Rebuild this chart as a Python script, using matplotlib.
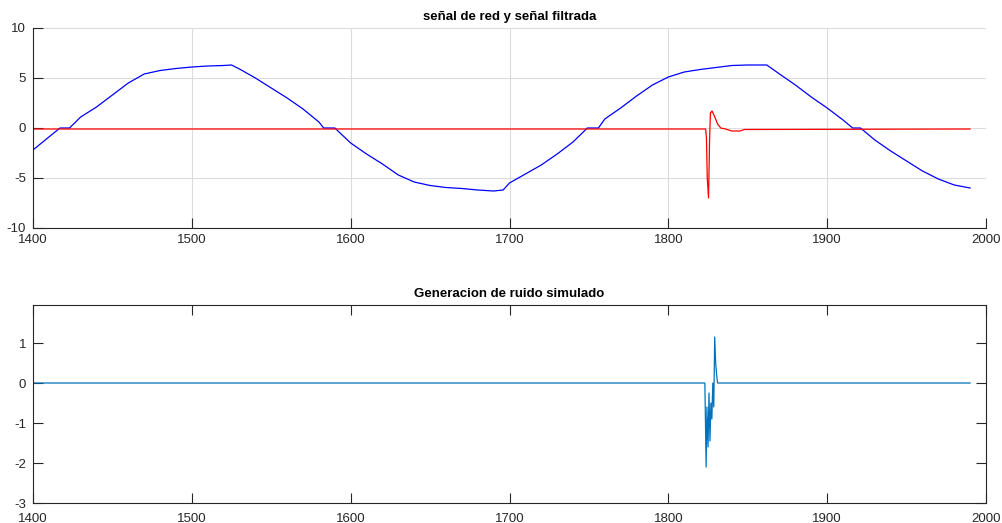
import matplotlib
matplotlib.use("Agg")
import matplotlib.pyplot as plt

plt.rcParams['font.family'] = ['Liberation Sans', 'DejaVu Sans']
plt.rcParams['axes.unicode_minus'] = False

# Top panel: grid signal (blue)
blue_x = [1400, 1410, 1417, 1420, 1423, 1430, 1440, 1450, 1460, 1470, 1480, 1490,
          1500, 1510, 1520, 1525, 1530, 1540, 1550, 1560, 1570, 1580, 1583, 1590,
          1600, 1610, 1620, 1630, 1640, 1650, 1660, 1670, 1680, 1690, 1696, 1700,
          1710, 1720, 1730, 1740, 1749, 1756, 1760, 1770, 1780, 1790, 1800, 1810,
          1820, 1830, 1840, 1850, 1862, 1870, 1880, 1890, 1900, 1910, 1916, 1921,
          1930, 1940, 1950, 1960, 1970, 1980, 1990]
blue_y = [-2.2, -0.9, 0.0, 0.0, 0.0, 1.1, 2.1, 3.3, 4.5, 5.4, 5.75, 5.95,
          6.1, 6.2, 6.25, 6.3, 5.9, 5.0, 4.0, 3.0, 1.9, 0.6, 0.0, 0.0,
          -1.5, -2.6, -3.6, -4.7, -5.4, -5.75, -5.95, -6.05, -6.2, -6.3, -6.2, -5.5,
          -4.6, -3.7, -2.6, -1.4, 0.0, 0.0, 0.9, 2.0, 3.2, 4.3, 5.1, 5.6,
          5.85, 6.05, 6.25, 6.3, 6.3, 5.4, 4.3, 3.1, 2.0, 0.8, 0.0, 0.0,
          -1.2, -2.3, -3.3, -4.3, -5.1, -5.7, -6.0]

# Top panel: filtered signal (red)
red_x = [1400, 1823.5, 1824, 1824.5, 1825.3, 1826, 1826.5, 1827.5, 1829, 1831,
         1833, 1836, 1840, 1845, 1848, 1990]
red_y = [-0.1, -0.1, -1.0, -5.0, -7.0, -1.0, 1.5, 1.7, 1.2, 0.4,
         0.0, -0.1, -0.3, -0.3, -0.15, -0.1]

# Bottom panel: simulated noise
noise_x = [1400, 1823, 1823.8, 1824.3, 1825, 1825.6, 1826.2, 1826.8, 1827.4, 1828,
           1828.6, 1829.2, 1829.8, 1830.4, 1831, 1990]
noise_y = [0, 0, -2.1, -0.6, -1.6, -0.25, -1.45, -0.5, -0.9, 0.0,
           -0.6, 1.15, 0.5, 0.2, 0, 0]

xticks = [1400, 1500, 1600, 1700, 1800, 1900, 2000]
top_yticks = [-10, -5, 0, 5, 10]
bot_yticks = [-3, -2, -1, 0, 1]

fig = plt.figure(figsize=(10.03, 5.23), dpi=100)
W, H = 1003, 523
ax1 = fig.add_axes([33 / W, 1 - 228 / H, (986 - 33) / W, 200 / H])
ax2 = fig.add_axes([33 / W, 1 - 503 / H, (986 - 33) / W, 198 / H])

axc = '#262626'

# top
ax1.plot(blue_x, blue_y, color='#0000ff', lw=0.9)
ax1.plot(red_x, red_y, color='#ff0000', lw=0.9)
ax1.set_xlim(1400, 2000)
ax1.set_ylim(-10, 10)
ax1.set_xticks(xticks)
ax1.set_yticks(top_yticks)
ax1.grid(True, color='#dcdcdc', lw=0.8)
ax1.set_axisbelow(True)
ax1.spines['top'].set_visible(False)
ax1.spines['right'].set_visible(False)
ax1.set_title('señal de red y señal filtrada', fontsize=9.5, fontweight='bold', color='black', pad=6)

# bottom
ax2.plot(noise_x, noise_y, color='#0072BD', lw=0.9)
ax2.set_xlim(1400, 2000)
ax2.set_ylim(-3, 1.95)
ax2.set_xticks(xticks)
ax2.set_yticks(bot_yticks)
ax2.set_title('Generacion de ruido simulado', fontsize=9.5, fontweight='bold', color='black', pad=6)

for ax in (ax1, ax2):
    for s in ax.spines.values():
        s.set_color(axc)
        s.set_linewidth(0.8)
    ax.tick_params(direction='in', length=7, width=0.8, color=axc, labelcolor=axc, labelsize=9.5)
    ax.tick_params(axis='y', pad=5)

ax1.tick_params(axis='x', pad=4)
ax2.tick_params(axis='x', pad=7)
ax2.tick_params(top=True, right=True)

fig.savefig('out.png', dpi=100)
